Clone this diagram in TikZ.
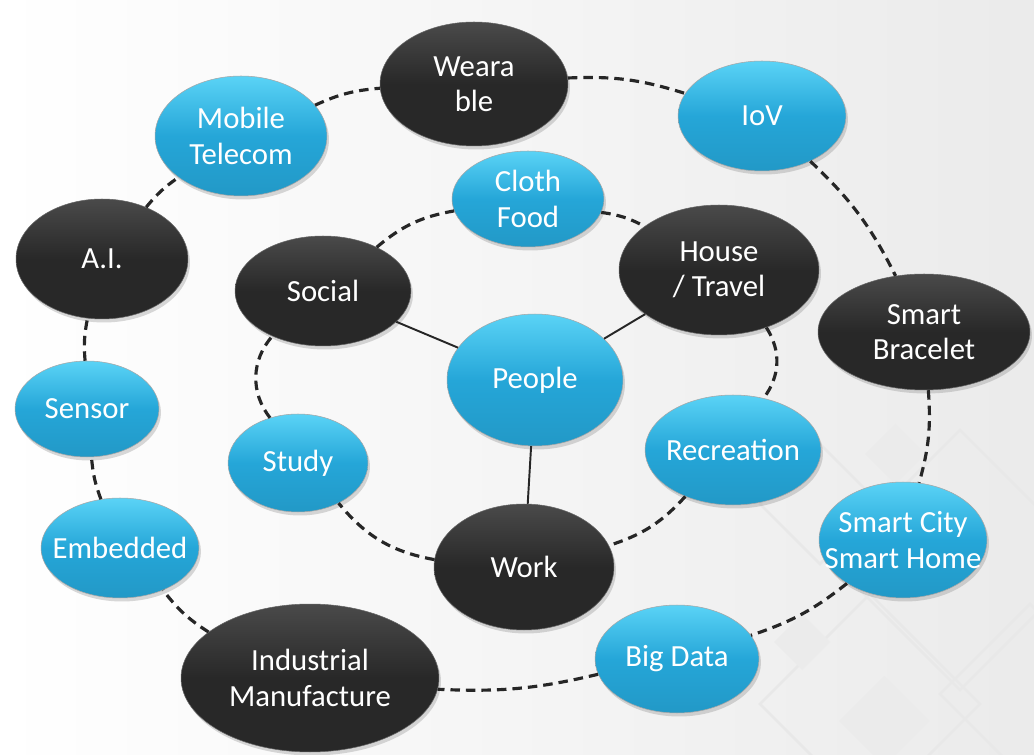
\documentclass[tikz,border=0pt]{standalone}
\usepackage{fontspec}
\setmainfont{Carlito}
\usepackage{tikz}
\usetikzlibrary{shapes.geometric}
\usetikzlibrary{shadows}
\definecolor{balldark}{HTML}{282828}
\definecolor{balldarktop}{HTML}{4A4A4A}
\definecolor{ballblue}{HTML}{25A6D8}
\definecolor{ballbluetop}{HTML}{5AD3F6}
\newcommand{\nw}[1]{\makebox[0pt]{#1}}

\begin{document}
\begin{tikzpicture}[x=0.02cm,y=0.02cm,
    ball/.style={ellipse,inner sep=0pt,text=white,align=center,
      font=\fontsize{17.5}{20}\selectfont,
      drop shadow={shadow xshift=0.04cm,shadow yshift=-0.07cm,opacity=0.3}},
    darkball/.style={ball,top color=balldarktop,bottom color=balldark,
      middle color=balldark,draw=black!60,line width=0.3pt},
    blueball/.style={ball,top color=ballbluetop,bottom color=ballblue!92!black,
      middle color=ballblue,draw=black!35,line width=0.3pt},
    ring/.style={line width=1.8pt,black!85,dash pattern=on 0.19cm off 0.12cm},
    spoke/.style={line width=1.1pt,black!85}]
    % background
    \useasboundingbox (0,0) rectangle (1034,754);
    \clip (0,0) rectangle (1034,754);
    \shade[left color=white,right color=black!8] (0,0) rectangle (1034,754);
    \foreach \x/\y/\r in {960/194/130,870/50/110,1030/60/90,820/250/60}
      \draw[black!9,line width=1.5pt] (\x-\r,\y) -- (\x,\y+\r) -- (\x+\r,\y) -- (\x,\y-\r) -- cycle;
    \foreach \x/\y/\r in {802/112/28,884/33/45,895/300/30}
      \fill[black!8] (\x-\r,\y) -- (\x,\y+\r) -- (\x+\r,\y) -- (\x,\y-\r) -- cycle;
    %
    % outer ring
    \node[darkball,minimum width=3.76cm,minimum height=2.48cm] (wearable) at (474,670) {\nw{Weara}\\\nw{ble}};
    \node[blueball,minimum width=3.36cm,minimum height=2.2cm] (iov) at (762,638) {\nw{IoV}};
    \node[darkball,minimum width=4.24cm,minimum height=2.32cm] (bracelet) at (924,422) {\nw{Smart}\\\nw{Bracelet}};
    \node[blueball,minimum width=3.36cm,minimum height=2.32cm] (city) at (903,214) {\nw{Smart City}\\\nw{Smart Home}};
    \node[blueball,minimum width=3.28cm,minimum height=2.16cm] (bigdata) at (677,95) {\nw{Big Data}};
    \node[darkball,minimum width=5.16cm,minimum height=2.96cm] (industrial) at (310,76) {\nw{Industrial}\\\nw{Manufacture}};
    \node[blueball,minimum width=3.16cm,minimum height=2cm] (embedded) at (120,206) {\nw{Embedded}};
    \node[blueball,minimum width=2.88cm,minimum height=1.92cm] (sensor) at (87,345) {\nw{Sensor}};
    \node[darkball,minimum width=3.44cm,minimum height=2.4cm] (ai) at (102,495) {\nw{A.I.}};
    \node[blueball,minimum width=3.44cm,minimum height=2.4cm] (mobile) at (241,618) {\nw{Mobile}\\\nw{Telecom}};
    %
    % inner ring
    \node[blueball,minimum width=3.04cm,minimum height=1.92cm] (cloth) at (528,555) {\nw{Cloth}\\\nw{Food}};
    \node[darkball,minimum width=4cm,minimum height=2.6cm] (house) at (719,484) {\nw{House}\\\nw{/ Travel}};
    \node[blueball,minimum width=3.52cm,minimum height=2.2cm] (recreation) at (733,304) {\nw{Recreation}};
    \node[darkball,minimum width=3.6cm,minimum height=2.52cm] (work) at (524,187) {\nw{Work}};
    \node[blueball,minimum width=2.8cm,minimum height=1.96cm] (study) at (298,291) {\nw{Study}};
    \node[darkball,minimum width=3.52cm,minimum height=2.2cm] (social) at (323,463) {\nw{Social}};
    \node[blueball,minimum width=3.52cm,minimum height=2.64cm] (people) at (535,374) {\nw{People}};
    %
    \draw[ring] (mobile) to[bend left=10] (wearable);
    \draw[ring] (wearable) to[bend left=10] (iov);
    \draw[ring] (iov) to[bend left=10] (bracelet);
    \draw[ring] (bracelet) to[bend left=10] (city);
    \draw[ring] (city) to[bend left=10] (bigdata);
    \draw[ring] (bigdata) to[bend left=8] (industrial);
    \draw[ring] (industrial) to[bend left=10] (embedded);
    \draw[ring] (embedded) to[bend left=8] (sensor);
    \draw[ring] (sensor) to[bend left=8] (ai);
    \draw[ring] (ai) to[bend left=8] (mobile);
    %
    \draw[ring] (social) to[bend left=15] (cloth);
    \draw[ring] (cloth) to[bend left=10] (house);
    \draw[ring] (house) to[bend left=35] (recreation);
    \draw[ring] (recreation) to[bend left=15] (work);
    \draw[ring] (work) to[bend left=20] (study);
    \draw[ring] (study) to[bend left=40] (social);
    %
    \draw[spoke] (people) -- (social);
    \draw[spoke] (people) -- (house);
    \draw[spoke] (people) -- (work);
\end{tikzpicture}
\end{document}
